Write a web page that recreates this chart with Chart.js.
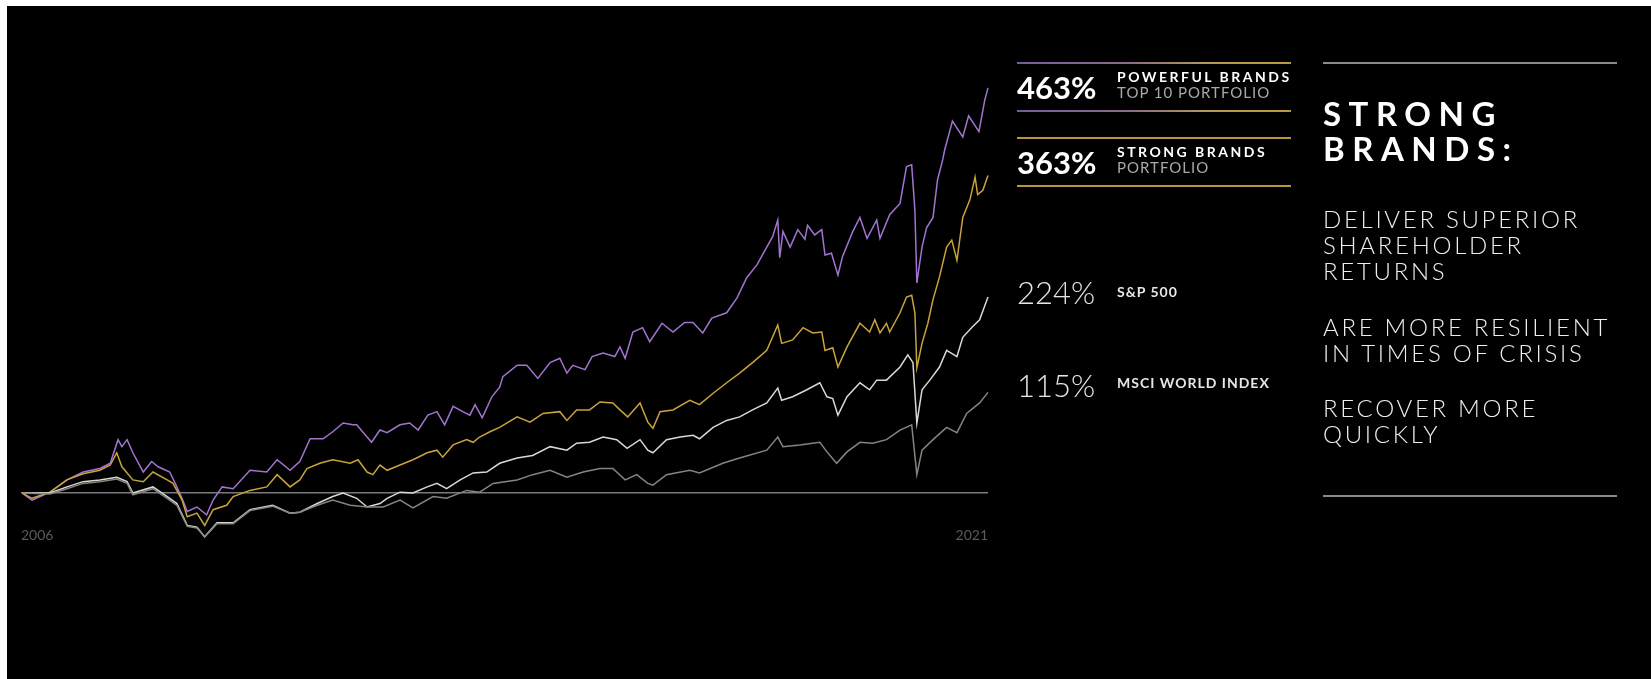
<!DOCTYPE html>
<html>
<head>
<meta charset="utf-8">
<script src="https://cdn.jsdelivr.net/npm/chart.js@4"></script>
<style>
  html, body { margin: 0; padding: 0; width: 1651px; height: 679px; overflow: hidden; background: #fff; font-family: Lato, "Open Sans", sans-serif; }
  #panel { position: absolute; left: 7px; top: 6px; right: 0; bottom: 0; background: #000; }
  #chart { position: absolute; left: 0; top: 0; }
  .t { position: absolute; white-space: nowrap; line-height: 1; color: #fff; }
  .pct { font-size: 31px; font-weight: 700; }
  .pct.light { font-weight: 300; color: #e6e6e6; }
  .name { font-size: 14px; font-weight: 700; letter-spacing: 2.5px; }
  .sub { font-size: 15px; font-weight: 400; letter-spacing: 1px; color: #a9a9a9; }
  .idx { font-size: 14px; font-weight: 700; letter-spacing: 1px; color: #e6e6e6; }
  .rule { position: absolute; height: 1.5px; }
  .mix { background: linear-gradient(90deg, #7b5a9c 0%, #8a6a8a 40%, #b39a55 70%, #b8993e 100%); }
  .gold { background: #b8993a; }
  .grey { background: #8a8a8a; }
  #headline { position: absolute; left: 1323px; top: 96px; font-size: 33px; font-weight: 700; line-height: 35px; letter-spacing: 7.5px; color: #fff; }
  .claim { position: absolute; left: 1323px; font-size: 24px; font-weight: 300; line-height: 26px; letter-spacing: 2.7px; color: #eee; }
</style>
</head>
<body>
<div id="panel"></div>
<canvas id="chart" width="1651" height="679"></canvas>

<div class="rule mix" style="left:1017px;top:62px;width:274px"></div>
<div class="t pct" style="left:1017px;top:72px">463%</div>
<div class="t name" style="left:1117px;top:70px">POWERFUL BRANDS</div>
<div class="t sub" style="left:1117px;top:85px">TOP 10 PORTFOLIO</div>
<div class="rule mix" style="left:1017px;top:110px;width:274px"></div>

<div class="rule gold" style="left:1017px;top:137px;width:274px"></div>
<div class="t pct" style="left:1017px;top:147px">363%</div>
<div class="t name" style="left:1117px;top:145px">STRONG BRANDS</div>
<div class="t sub" style="left:1117px;top:160px">PORTFOLIO</div>
<div class="rule gold" style="left:1017px;top:185px;width:274px"></div>

<div class="t pct light" style="left:1017px;top:277px">224%</div>
<div class="t idx" style="left:1117px;top:285px">S&amp;P 500</div>
<div class="t pct light" style="left:1017px;top:370px">115%</div>
<div class="t idx" style="left:1117px;top:376px">MSCI WORLD INDEX</div>

<div class="rule grey" style="left:1323px;top:62px;width:294px"></div>
<div id="headline">STRONG<br>BRANDS:</div>
<div class="claim" style="top:206px">DELIVER SUPERIOR<br>SHAREHOLDER<br>RETURNS</div>
<div class="claim" style="top:314px">ARE MORE RESILIENT<br>IN TIMES OF CRISIS</div>
<div class="claim" style="top:395px">RECOVER MORE<br>QUICKLY</div>
<div class="rule grey" style="left:1323px;top:495px;width:294px"></div>

<script>
// Cumulative total return (%) since mid-2006, sampled at decimal years.
const yearLabels = ['2006', '2021'];
const periodStart = 2006.35;
const periodEnd = 2021.30;

const top10Years = [
  2006.37, 2006.52, 2006.80, 2007.06, 2007.31, 2007.57, 2007.73, 2007.85, 2007.91, 2007.99,
  2008.08, 2008.24, 2008.37, 2008.47, 2008.65, 2008.76, 2008.85, 2008.92, 2009.07, 2009.22,
  2009.32, 2009.46, 2009.63, 2009.89, 2010.15, 2010.31, 2010.51, 2010.66, 2010.82, 2011.02,
  2011.17, 2011.33, 2011.48, 2011.54, 2011.70, 2011.77, 2011.90, 2012.01, 2012.21, 2012.36,
  2012.49, 2012.64, 2012.78, 2012.90, 2013.03, 2013.18, 2013.29, 2013.37, 2013.48, 2013.63,
  2013.75, 2013.80, 2014.02, 2014.17, 2014.34, 2014.53, 2014.68, 2014.79, 2014.88, 2015.07,
  2015.18, 2015.35, 2015.53, 2015.61, 2015.69, 2015.81, 2015.96, 2016.07, 2016.26, 2016.43,
  2016.61, 2016.74, 2016.89, 2017.03, 2017.26, 2017.42, 2017.57, 2017.73, 2017.88, 2017.97,
  2018.05, 2018.08, 2018.13, 2018.24, 2018.36, 2018.47, 2018.51, 2018.62, 2018.73, 2018.78,
  2018.88, 2018.98, 2019.05, 2019.21, 2019.32, 2019.43, 2019.58, 2019.63, 2019.78, 2019.94,
  2020.04, 2020.12, 2020.17, 2020.20, 2020.28, 2020.35, 2020.45, 2020.52, 2020.60, 2020.63,
  2020.75, 2020.91, 2021.00, 2021.16, 2021.25, 2021.30
];
const top10Returns = [
  0, -8, 1, 15, 24, 28, 34, 61, 53, 61,
  46, 24, 36, 30, 24, 7, -8, -21, -16, -25,
  -8, 7, 5, 26, 24, 38, 26, 36, 62, 62,
  70, 80, 78, 78, 64, 58, 72, 69, 78, 80,
  72, 89, 93, 78, 99, 93, 89, 101, 86, 110,
  121, 133, 146, 146, 131, 149, 154, 137, 146, 141,
  156, 160, 156, 167, 154, 184, 189, 173, 194, 184,
  195, 195, 183, 200, 206, 223, 246, 261, 281, 293,
  312, 269, 299, 281, 301, 290, 306, 295, 301, 272,
  274, 249, 270, 299, 315, 291, 312, 291, 318, 331,
  373, 375, 323, 240, 281, 303, 315, 358, 381, 392,
  425, 407, 431, 413, 449, 463
];

const strongYears = [
  2006.37, 2006.52, 2006.80, 2007.06, 2007.31, 2007.57, 2007.73, 2007.83, 2007.91, 2008.08,
  2008.24, 2008.39, 2008.61, 2008.70, 2008.84, 2008.92, 2009.07, 2009.19, 2009.32, 2009.53,
  2009.63, 2009.89, 2010.15, 2010.31, 2010.51, 2010.66, 2010.77, 2010.97, 2011.17, 2011.44,
  2011.56, 2011.70, 2011.79, 2011.90, 2012.01, 2012.21, 2012.41, 2012.63, 2012.78, 2012.87,
  2013.03, 2013.24, 2013.34, 2013.44, 2013.60, 2013.75, 2014.02, 2014.22, 2014.42, 2014.68,
  2014.79, 2014.94, 2015.14, 2015.30, 2015.50, 2015.61, 2015.73, 2015.92, 2016.04, 2016.12,
  2016.23, 2016.43, 2016.69, 2016.84, 2017.05, 2017.26, 2017.46, 2017.66, 2017.88, 2018.05,
  2018.11, 2018.28, 2018.44, 2018.59, 2018.73, 2018.78, 2018.90, 2018.98, 2019.12, 2019.32,
  2019.47, 2019.55, 2019.63, 2019.73, 2019.78, 2019.94, 2020.04, 2020.12, 2020.17, 2020.20,
  2020.28, 2020.37, 2020.45, 2020.55, 2020.66, 2020.74, 2020.82, 2020.91, 2021.02, 2021.10,
  2021.14, 2021.22, 2021.30
];
const strongReturns = [
  0, -6, 1, 15, 22, 26, 32, 46, 30, 15,
  13, 24, 15, 11, -8, -27, -23, -37, -19, -14,
  -4, 3, 7, 21, 7, 15, 28, 34, 38, 34,
  38, 24, 21, 32, 26, 32, 38, 46, 49, 41,
  55, 61, 58, 64, 70, 75, 87, 81, 91, 93,
  83, 95, 95, 104, 103, 95, 87, 103, 81, 74,
  93, 95, 106, 101, 114, 126, 137, 149, 163, 192,
  171, 175, 189, 183, 184, 163, 166, 144, 167, 194,
  184, 198, 183, 194, 184, 206, 224, 226, 206, 143,
  171, 194, 221, 247, 281, 289, 266, 315, 335, 361,
  341, 346, 363
];

const spYears = [
  2006.37, 2006.80, 2007.06, 2007.31, 2007.57, 2007.83, 2007.99, 2008.08, 2008.39, 2008.61,
  2008.76, 2008.92, 2009.07, 2009.19, 2009.38, 2009.63, 2009.89, 2010.24, 2010.51, 2010.66,
  2010.93, 2011.17, 2011.33, 2011.54, 2011.70, 2011.90, 2012.01, 2012.21, 2012.41, 2012.63,
  2012.78, 2012.93, 2013.14, 2013.34, 2013.55, 2013.75, 2014.02, 2014.26, 2014.53, 2014.79,
  2014.94, 2015.14, 2015.35, 2015.56, 2015.72, 2015.92, 2016.04, 2016.12, 2016.33, 2016.54,
  2016.74, 2016.84, 2017.05, 2017.26, 2017.46, 2017.66, 2017.88, 2018.05, 2018.11, 2018.28,
  2018.50, 2018.70, 2018.81, 2018.90, 2018.98, 2019.12, 2019.32, 2019.47, 2019.58, 2019.73,
  2019.94, 2020.06, 2020.14, 2020.20, 2020.28, 2020.40, 2020.55, 2020.66, 2020.82, 2020.91,
  2021.06, 2021.17, 2021.30
];
const spReturns = [
  0, 0, 7, 13, 15, 18, 13, 0, 7, -4,
  -12, -37, -39, -50, -34, -34, -19, -14, -23, -22,
  -12, -4, 0, -6, -16, -12, -6, 1, 0, 7,
  11, 5, 15, 23, 24, 34, 40, 43, 53, 49,
  57, 58, 64, 61, 51, 61, 49, 46, 61, 64,
  66, 62, 75, 83, 87, 95, 103, 120, 106, 110,
  118, 126, 110, 108, 89, 110, 126, 118, 129, 129,
  144, 158, 149, 80, 118, 129, 144, 163, 156, 178,
  190, 198, 224
];

const msciYears = [
  2006.37, 2006.80, 2007.06, 2007.31, 2007.57, 2007.83, 2007.99, 2008.08, 2008.39, 2008.61,
  2008.76, 2008.92, 2009.07, 2009.19, 2009.38, 2009.63, 2009.89, 2010.24, 2010.51, 2010.66,
  2010.93, 2011.17, 2011.44, 2011.70, 2011.95, 2012.21, 2012.41, 2012.72, 2012.93, 2013.24,
  2013.44, 2013.65, 2014.02, 2014.26, 2014.53, 2014.79, 2015.04, 2015.30, 2015.50, 2015.69,
  2015.87, 2016.04, 2016.12, 2016.33, 2016.69, 2016.84, 2017.20, 2017.46, 2017.88, 2018.05,
  2018.13, 2018.39, 2018.70, 2018.81, 2018.96, 2019.12, 2019.32, 2019.52, 2019.73, 2019.94,
  2020.12, 2020.20, 2020.28, 2020.45, 2020.66, 2020.82, 2020.97, 2021.17, 2021.30
];
const msciReturns = [
  0, -1, 5, 11, 13, 16, 11, -2, 5, -6,
  -14, -38, -40, -50, -35, -35, -20, -15, -23, -22,
  -14, -8, -14, -16, -16, -8, -17, -4, -6, 3,
  1, 11, 15, 21, 26, 18, 24, 28, 28, 15,
  21, 11, 9, 21, 26, 23, 34, 40, 49, 64,
  53, 55, 58, 47, 34, 47, 58, 57, 61, 72,
  78, 21, 49, 61, 75, 69, 91, 103, 115
];

function toPoints(years, values) {
  return years.map((x, i) => ({ x, y: values[i] }));
}

function series(label, years, values, color) {
  return {
    label,
    data: toPoints(years, values),
    borderColor: color,
    borderWidth: 1.5,
    pointRadius: 0,
    tension: 0,
    clip: false
  };
}

new Chart(document.getElementById('chart'), {
  type: 'line',
  data: {
    datasets: [
      series('MSCI World Index', msciYears, msciReturns, '#85857c'),
      series('S&P 500', spYears, spReturns, '#d9d9d4'),
      series('Strong Brands Portfolio', strongYears, strongReturns, '#c9a33b'),
      series('Powerful Brands Top 10 Portfolio', top10Years, top10Returns, '#a274d2')
    ]
  },
  options: {
    responsive: false,
    animation: false,
    events: [],
    layout: { padding: { left: 21, right: 663, top: 73, bottom: 127 } },
    plugins: { legend: { display: false }, tooltip: { enabled: false } },
    scales: {
      x: {
        type: 'linear',
        min: periodStart,
        max: periodEnd,
        grid: { display: false, drawTicks: false },
        border: { display: false },
        afterBuildTicks: s => { s.ticks = [{ value: periodStart }, { value: periodEnd }]; },
        afterFit: s => { s.height = 30; },
        ticks: {
          align: 'inner',
          autoSkip: false,
          maxRotation: 0,
          padding: 5,
          color: '#5a5a5a',
          font: { family: 'Lato', size: 14 },
          callback: (v, i) => yearLabels[i]
        }
      },
      y: {
        min: -33.1,
        max: 480,
        border: { display: false },
        afterBuildTicks: s => { s.ticks = [{ value: 0 }]; },
        afterFit: s => { s.width = 0; },
        ticks: { display: false },
        grid: { color: '#7a7a7a', lineWidth: 1.5, drawTicks: false }
      }
    }
  }
});
</script>
</body>
</html>
